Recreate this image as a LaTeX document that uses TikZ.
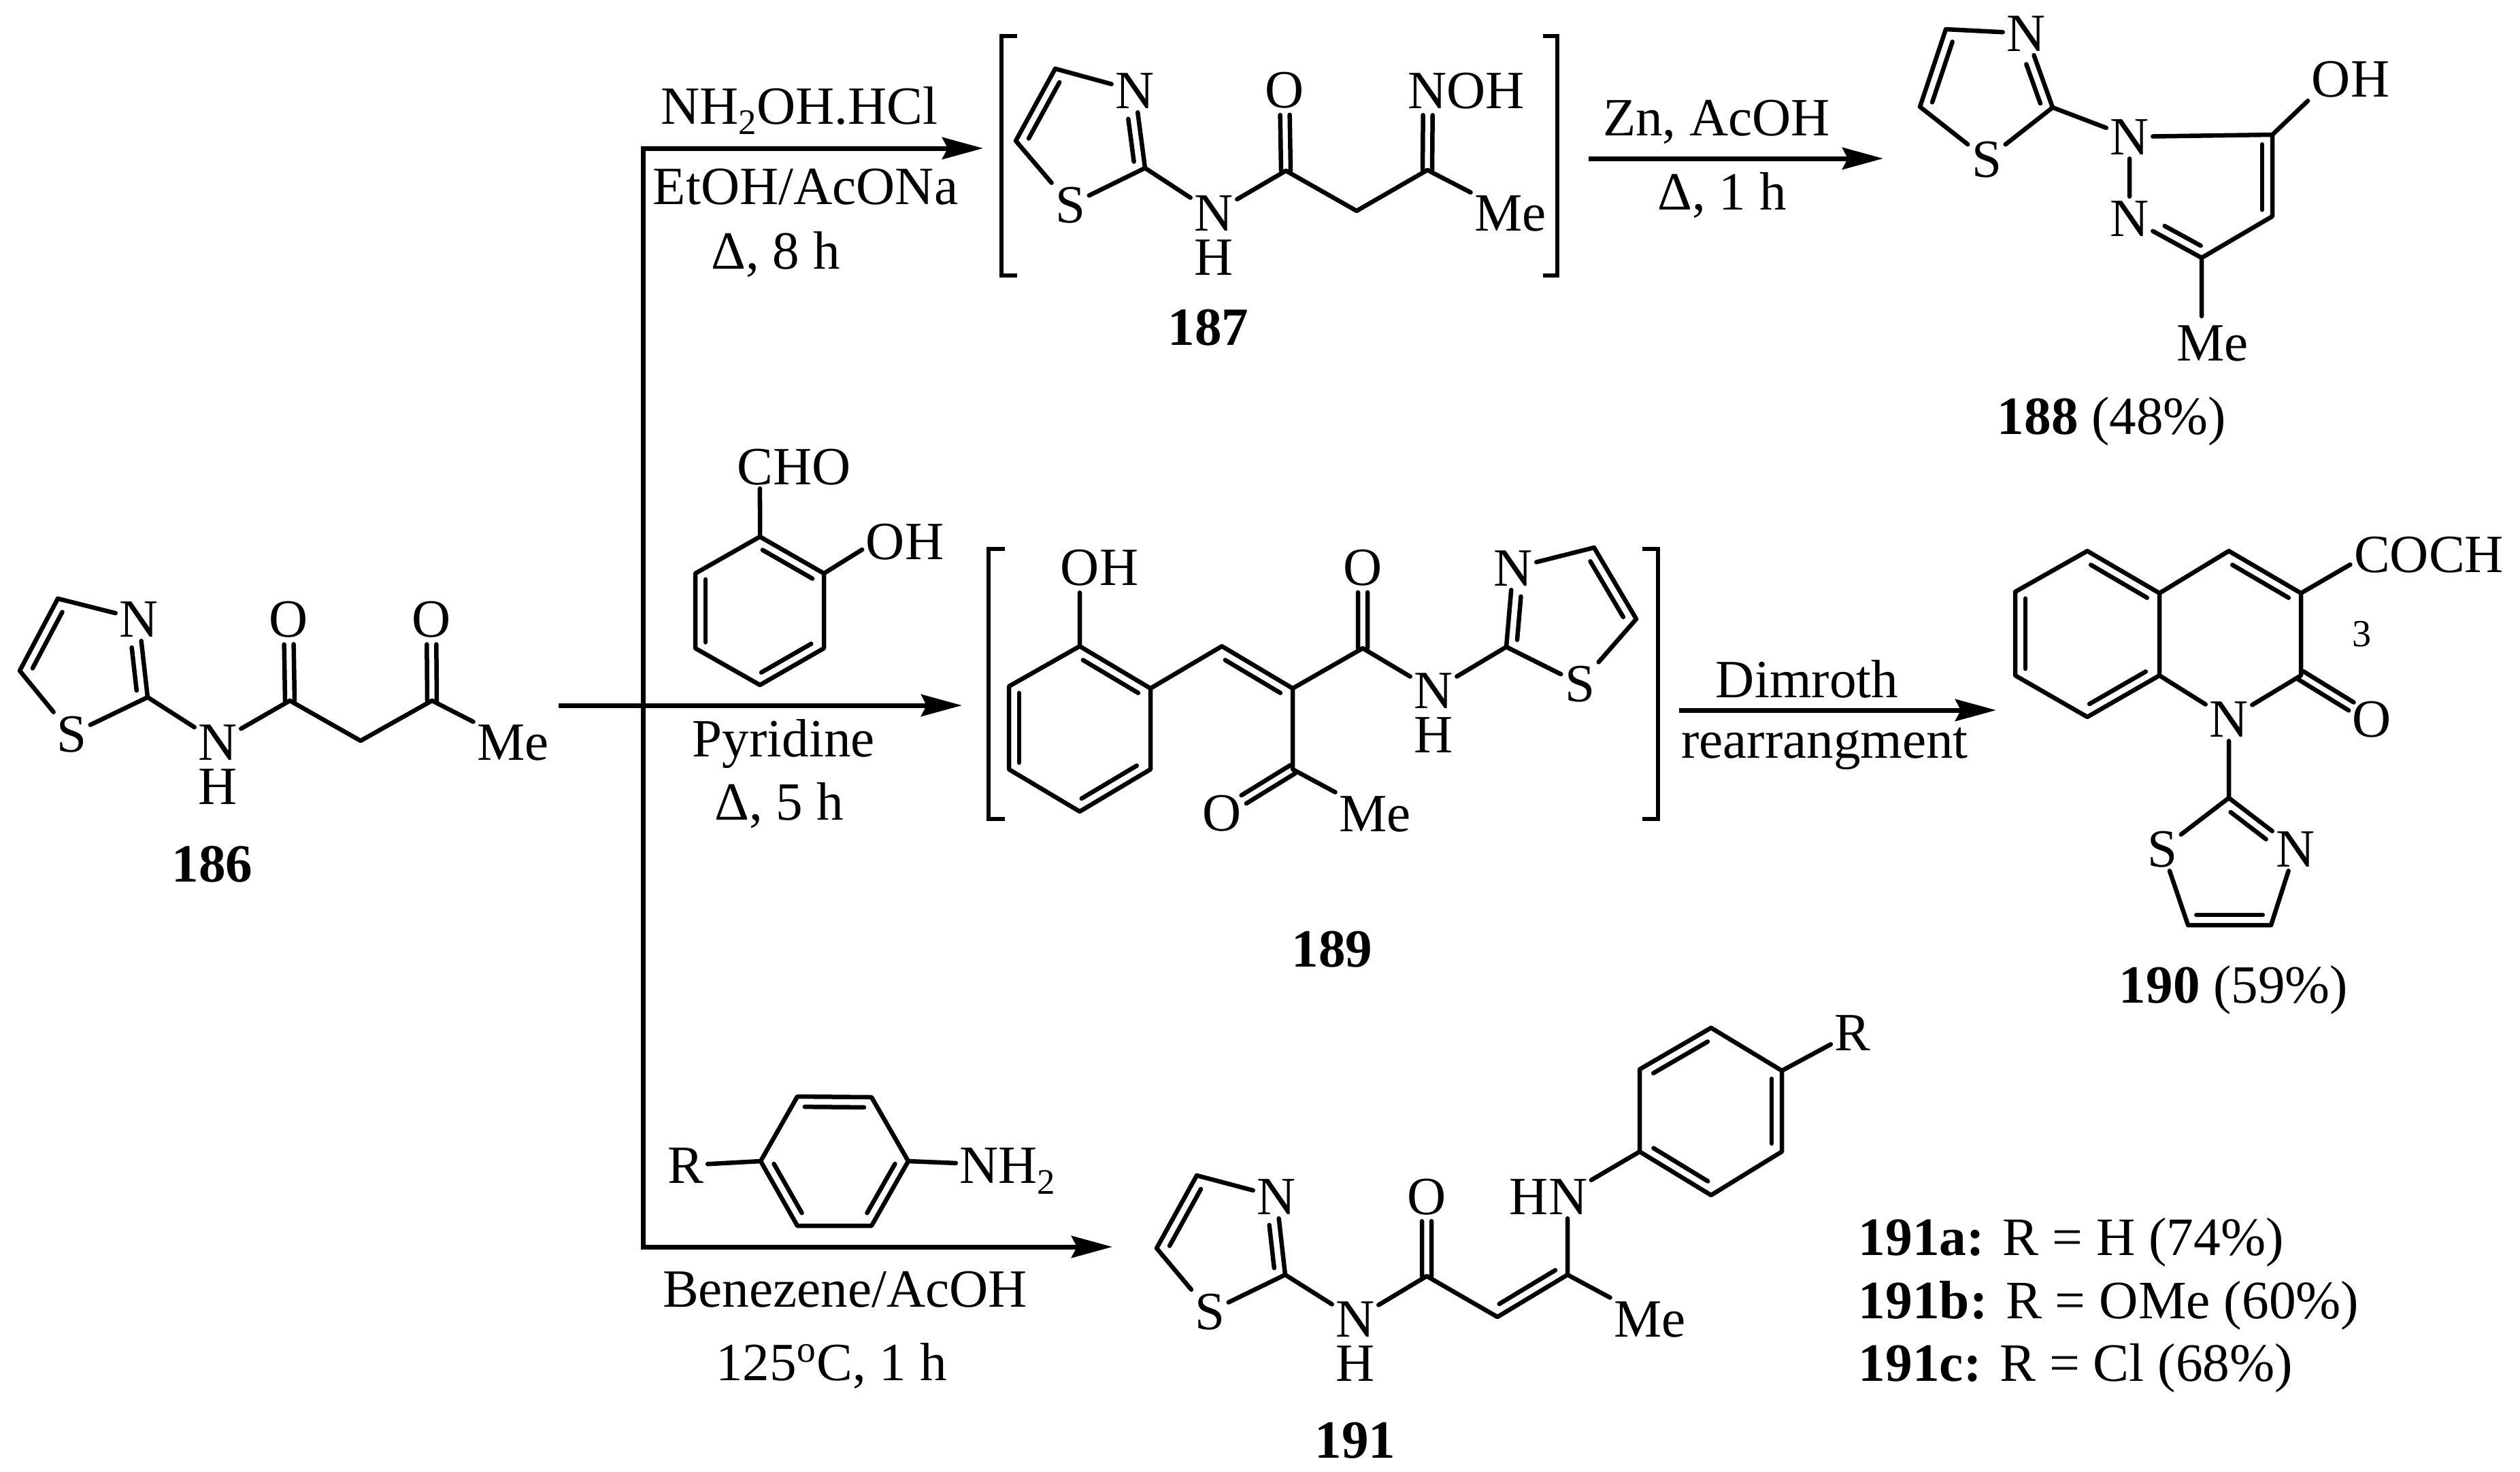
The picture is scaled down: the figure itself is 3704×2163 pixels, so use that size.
\documentclass[tikz,border=0pt]{standalone}
\usepackage{fontspec}
\setmainfont{Liberation Serif}
\usetikzlibrary{arrows.meta, calc, positioning}
\newcommand{\inbond}[4]{\draw[bond] ($(#1)!#3!(#2)!.15cm!90:(#2)$) -- ($(#1)!#4!(#2)!.15cm!90:(#2)$);}
\newcommand{\twinbond}[3]{\draw[bond] ($(#1)!.07cm!90:(#2)$) -- ($(#1)!#3!(#2)!.07cm!90:(#2)$);
	\draw[bond] ($(#1)!.07cm!-90:(#2)$) -- ($(#1)!#3!(#2)!.07cm!-90:(#2)$);}
\newcommand{\lowtwo}{\smash{\raisebox{-.2em}{\fontsize{15}{15}\selectfont 2}}}

\begin{document}
\begin{tikzpicture}[x=.01cm, y=-.01cm]
\tikzset{atom/.style={inner sep=.05cm, text height=.53cm, text depth=0pt, font=\fontsize{22.5}{26}\selectfont},
		reag/.style={anchor=base, inner sep=0pt, font=\fontsize{22.5}{26}\selectfont},
		legend/.style={anchor=base west, inner sep=0pt, font=\fontsize{22.6}{26}\selectfont},
		bond/.style={line width=.065cm, line cap=round, line join=round},
		brack/.style={line width=.065cm},
		arrowline/.style={line width=.07cm},
		>={Stealth[length=.6cm, width=.32cm, inset=.08cm]}}
\useasboundingbox (0,0) rectangle (3704,2163);

% 186
\coordinate (a4) at (85,880);
\coordinate (a5) at (29,986);
\coordinate (a2) at (217,1025);
\coordinate (a6) at (426,1030);
\coordinate (a7) at (530,1089);
\coordinate (a8) at (635,1030);
\node[atom] (as) at (105,1079) {S};
\node[atom] (an) at (204,910) {N};
\node[atom] (an2) at (320,1091) {N};
\node[atom, below=.01cm of an2] (ah) {H};
\node[atom] (ao1) at (424,910) {O};
\node[atom] (ao2) at (634,910) {O};
\node[atom] (ame) at (754,1091) {Me};
\node[reag] (l186) at (312,1296) {\textbf{186}};
\draw[bond] (an) -- (a4) -- (a5) -- (as) -- (a2) -- (an);
\draw[bond] (a2) -- (an2) -- (a6) -- (a7) -- (a8) -- (ame);
\inbond{a4}{a5}{.12}{.9}
\inbond{a2}{an}{.1}{.65}
\twinbond{a6}{ao1}{.69}
\twinbond{a8}{ao2}{.69}

% branch arrows
\coordinate (mainstart) at (821,1037);
\coordinate (maintip) at (1414,1037);
\coordinate (toptip) at (1445,218);
\coordinate (topcorner) at (945,218);
\coordinate (botcorner) at (945,1833);
\coordinate (bottip) at (1635,1833);
\draw[arrowline, ->] (mainstart) -- (maintip);
\draw[arrowline, <->] (toptip) -- (topcorner) -- (botcorner) -- (bottip);

% top reagents
\node[reag] (r1a) at (1175,182) {NH\lowtwo OH.HCl};
\node[reag] (r1b) at (1184,300) {EtOH/AcONa};
\node[reag] (r1c) at (1140,395) {Δ, 8 h};

% 187
\draw[brack] (1495,53) -- (1472,53) -- (1472,405) -- (1495,405);
\draw[brack] (2268,53) -- (2289,53) -- (2289,405) -- (2268,405);
\coordinate (b4) at (1551,101);
\coordinate (b5) at (1493,207);
\coordinate (b2) at (1683,247);
\coordinate (b6) at (1890,251);
\coordinate (b7) at (1994,310);
\coordinate (b8) at (2098,250);
\node[atom] (bs) at (1573,301) {S};
\node[atom] (bn) at (1668,133) {N};
\node[atom] (bn2) at (1784,313) {N};
\node[atom, below=.01cm of bn2] (bh) {H};
\node[atom] (bo) at (1888,132) {O};
\node[atom] (noh) at (2155,133) {NOH};
\node[atom] (bme) at (2220,313) {Me};
\node[reag] (l187) at (1776,507) {\textbf{187}};
\coordinate (bn3) at ([xshift=-.56cm]noh.center);
\draw[bond] (bn) -- (b4) -- (b5) -- (bs) -- (b2) -- (bn);
\draw[bond] (b2) -- (bn2) -- (b6) -- (b7) -- (b8) -- (bme);
\inbond{b4}{b5}{.12}{.9}
\inbond{b2}{bn}{.1}{.65}
\twinbond{b6}{bo}{.69}
\twinbond{b8}{bn3}{.69}

% 187 to 188
\coordinate (zstart) at (2335,233);
\coordinate (ztip) at (2768,233);
\draw[arrowline, ->] (zstart) -- (ztip);
\node[reag] (r2a) at (2523,199) {Zn, AcOH};
\node[reag] (r2b) at (2531,308) {Δ, 1 h};

% 188
\coordinate (c4) at (2860,43);
\coordinate (c5) at (2822,157);
\coordinate (c2) at (3017,158);
\coordinate (p3) at (3236,379);
\coordinate (p4) at (3340,318);
\coordinate (p5) at (3340,198);
\node[atom] (cs) at (2920,234) {S};
\node[atom] (cn) at (2978,49) {N};
\node[atom] (n1) at (3130,201) {N};
\node[atom] (n2) at (3130,321) {N};
\node[atom] (coh) at (3455,116) {OH};
\node[atom] (cme) at (3252,504) {Me};
\node[reag] (l188) at (3104,638) {\textbf{188} (48\%)};
\draw[bond] (cn) -- (c4) -- (c5) -- (cs) -- (c2) -- (cn);
\draw[bond] (c2) -- (n1) -- (n2) -- (p3) -- (p4) -- (p5) -- (n1);
\draw[bond] (p5) -- (coh.south west);
\draw[bond] (p3) -- ([xshift=-.16cm, yshift=.07cm]cme.north);
\inbond{c4}{c5}{.12}{.9}
\inbond{c2}{cn}{.1}{.63}
\inbond{p4}{p5}{.08}{.88}
\inbond{n2}{p3}{.42}{.92}

% salicylaldehyde
\coordinate (d1) at (1117,789);
\coordinate (d2) at (1211,843);
\coordinate (d3) at (1211,953);
\coordinate (d4) at (1117,1007);
\coordinate (d5) at (1022,953);
\coordinate (d6) at (1022,843);
\node[atom] (dcho) at (1167,686) {CHO};
\node[atom] (doh) at (1330,796) {OH};
\draw[bond] (d1) -- (d2) -- (d3) -- (d4) -- (d5) -- (d6) -- cycle;
\draw[bond] (d1) -- ([xshift=-.5cm]dcho.south);
\draw[bond] (d2) -- ([yshift=-.12cm]doh.west);
\inbond{d6}{d5}{.08}{.92}
\inbond{d4}{d3}{.1}{.88}
\inbond{d2}{d1}{.1}{.88}
\node[reag] (r3a) at (1152,1112) {Pyridine};
\node[reag] (r3b) at (1145,1205) {Δ, 5 h};

% 189
\draw[brack] (1477,807) -- (1453,807) -- (1453,1204) -- (1477,1204);
\draw[brack] (2414,807) -- (2437,807) -- (2437,1204) -- (2414,1204);
\coordinate (ep1) at (1587,950);
\coordinate (ep2) at (1691,1012);
\coordinate (ep3) at (1691,1131);
\coordinate (ep4) at (1587,1193);
\coordinate (ep5) at (1483,1131);
\coordinate (ep6) at (1483,1009);
\coordinate (ev) at (1796,950);
\coordinate (ec) at (1900,1012);
\coordinate (ed) at (2003,953);
\coordinate (ef) at (1900,1131);
\coordinate (e2) at (2214,951);
\coordinate (e4) at (2343,805);
\coordinate (e5) at (2405,910);
\node[atom] (eoh) at (1616,834) {OH};
\node[atom] (eo1) at (2003,834) {O};
\node[atom] (eo2) at (1796,1195) {O};
\node[atom] (eme) at (2021,1196) {Me};
\node[atom] (en2) at (2107,1015) {N};
\node[atom, below=.01cm of en2] (eh) {H};
\node[atom] (en) at (2224,835) {N};
\node[atom] (es) at (2322,1005) {S};
\node[reag] (l189) at (1958,1421) {\textbf{189}};
\draw[bond] (ep1) -- (ep2) -- (ep3) -- (ep4) -- (ep5) -- (ep6) -- cycle;
\draw[bond] (ep1) -- ([xshift=-.29cm, yshift=-.05cm]eoh.south);
\draw[bond] (ep2) -- (ev) -- (ec) -- (ed) -- (en2) -- (e2) -- (es) -- (e5) -- (e4) -- (en) -- (e2);
\draw[bond] (ec) -- (ef) -- (eme);
\inbond{ep6}{ep5}{.08}{.92}
\inbond{ep4}{ep3}{.1}{.88}
\inbond{ep2}{ep1}{.1}{.88}
\inbond{ec}{ev}{.1}{.88}
\inbond{e5}{e4}{.1}{.88}
\inbond{en}{e2}{.35}{.9}
\twinbond{ed}{eo1}{.69}
\twinbond{ef}{eo2}{.69}

% 189 to 190
\coordinate (dstart) at (2468,1044);
\coordinate (dtip) at (2934,1044);
\draw[arrowline, ->] (dstart) -- (dtip);
\node[reag] (r4a) at (2656,1025) {Dimroth};
\node[reag] (r4b) at (2682,1114) {rearrangment};

% 190
\coordinate (f1) at (3068,810);
\coordinate (f2) at (2962,870);
\coordinate (f3) at (2962,993);
\coordinate (f4) at (3068,1054);
\coordinate (f5) at (3174,993);
\coordinate (f6) at (3174,872);
\coordinate (fa) at (3276,810);
\coordinate (fb) at (3382,872);
\coordinate (fc) at (3382,993);
\coordinate (ft) at (3276,1173);
\coordinate (t5) at (3216,1360);
\coordinate (t4) at (3338,1360);
\node[atom] (fn) at (3276,1057) {N};
\node[atom] (fo) at (3486,1057) {O};
\node[atom] (coch) at (3570,815) {COCH};
\node[inner sep=0pt, font=\fontsize{16}{18}\selectfont] (three) at (3472,932) {3};
\node[atom] (fts) at (3178,1248) {S};
\node[atom] (ftn) at (3374,1248) {N};
\node[reag] (l190) at (3283,1474) {\textbf{190} (59\%)};
\draw[bond] (f1) -- (f2) -- (f3) -- (f4) -- (f5) -- (f6) -- cycle;
\draw[bond] (f6) -- (fa) -- (fb) -- (fc) -- (fn) -- (f5);
\draw[bond] (fb) -- ([yshift=-.15cm]coch.west);
\draw[bond] (fn) -- (ft) -- (fts) -- (t5) -- (t4) -- (ftn) -- (ft);
\inbond{f2}{f3}{.08}{.92}
\inbond{f4}{f5}{.1}{.88}
\inbond{f6}{f1}{.1}{.88}
\inbond{fb}{fa}{.1}{.88}
\inbond{t5}{t4}{.1}{.9}
\inbond{ftn}{ft}{.35}{.88}
\twinbond{fc}{fo}{.71}

% aniline
\coordinate (ka) at (1172,1612);
\coordinate (kb) at (1118,1707);
\coordinate (kc) at (1172,1802);
\coordinate (kd) at (1281,1802);
\coordinate (ke) at (1335,1707);
\coordinate (kf) at (1281,1613);
\node[atom] (kr) at (1008,1713) {R};
\node[atom] (knh) at (1481,1713) {NH\lowtwo};
\draw[bond] (ka) -- (kb) -- (kc) -- (kd) -- (ke) -- (kf) -- cycle;
\draw[bond] (kr) -- (kb);
\draw[bond] (ke) -- (knh);
\inbond{kb}{kc}{.12}{.88}
\inbond{kd}{ke}{.12}{.88}
\inbond{kf}{ka}{.1}{.9}
\node[reag] (r5a) at (1242,1921) {Benezene/AcOH};
\node[reag] (r5b) at (1222,2029) {125\textsuperscript{o}C, 1 h};

% 191
\coordinate (g4) at (1759,1728);
\coordinate (g5) at (1700,1835);
\coordinate (g2) at (1889,1874);
\coordinate (g6) at (2097,1876);
\coordinate (gch) at (2201,1936);
\coordinate (gc) at (2304,1874);
\coordinate (h1) at (2410,1693);
\coordinate (h2) at (2410,1572);
\coordinate (h3) at (2515,1511);
\coordinate (h4) at (2619,1574);
\coordinate (h5) at (2619,1693);
\coordinate (h6) at (2515,1757);
\node[atom] (gs) at (1778,1928) {S};
\node[atom] (gn) at (1876,1759) {N};
\node[atom] (gn2) at (1992,1939) {N};
\node[atom, below=.01cm of gn2] (gh) {H};
\node[atom] (go) at (2097,1759) {O};
\node[atom] (hn) at (2276,1759) {HN};
\node[atom] (gme) at (2425,1939) {Me};
\node[atom] (hr) at (2723,1518) {R};
\node[reag] (l191) at (1992,2143) {\textbf{191}};
\draw[bond] (gn) -- (g4) -- (g5) -- (gs) -- (g2) -- (gn);
\draw[bond] (g2) -- (gn2) -- (g6) -- (gch) -- (gc) -- (gme);
\draw[bond] (gc) -- ([xshift=.28cm]hn.south);
\draw[bond] ([yshift=-.08cm]hn.north east) -- (h1);
\draw[bond] (h1) -- (h2) -- (h3) -- (h4) -- (h5) -- (h6) -- cycle;
\draw[bond] (h4) -- (hr);
\inbond{g4}{g5}{.12}{.9}
\inbond{g2}{gn}{.1}{.65}
\inbond{gch}{gc}{.1}{.9}
\inbond{h3}{h2}{.12}{.88}
\inbond{h1}{h6}{.12}{.88}
\inbond{h5}{h4}{.1}{.9}
\twinbond{g6}{go}{.69}

% legend
\node[legend] (la) at (2731,1845) {\textbf{191a:} R = H (74\%)};
\node[legend] (lb) at (2731,1938) {\textbf{191b:} R = OMe (60\%)};
\node[legend] (lc) at (2731,2030) {\textbf{191c:} R = Cl (68\%)};
\end{tikzpicture}
\end{document}
